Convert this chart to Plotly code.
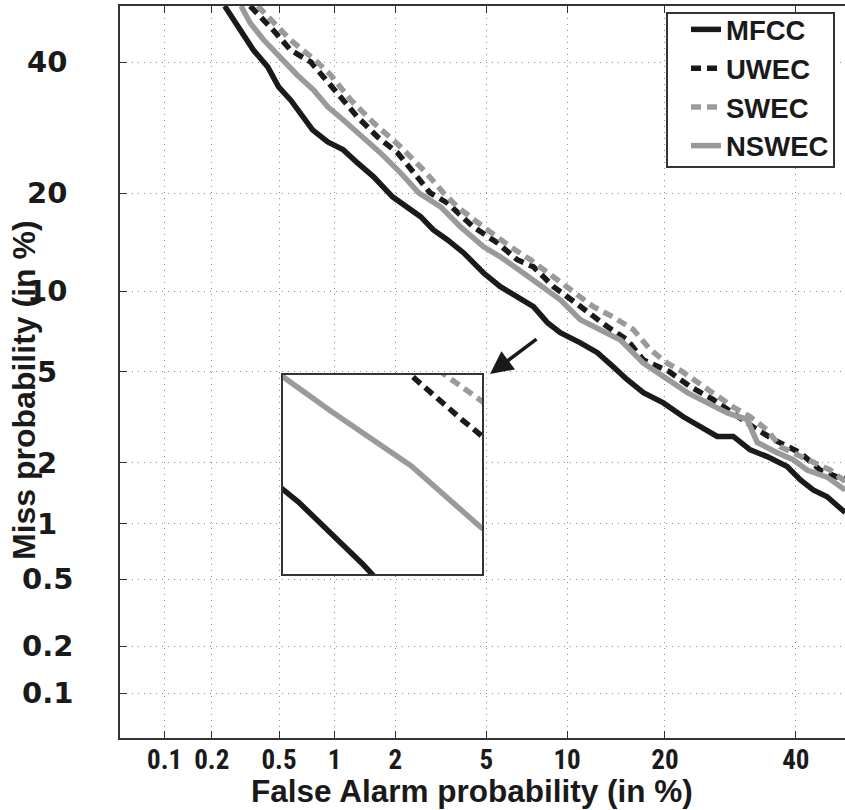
import plotly.graph_objects as go
from statistics import NormalDist

_nd = NormalDist()


def probit(pct):
    return _nd.inv_cdf(pct / 100.0)


# ---------------- data (percent) ----------------
x_ticks = [0.1, 0.2, 0.5, 1, 2, 5, 10, 20, 40]
x_tick_labels = ["0.1", "0.2", "0.5", "1", "2", "5", "10", "20", "40"]
y_ticks = [0.1, 0.2, 0.5, 1, 2, 5, 10, 20, 40]
y_tick_labels = ["0.1", "0.2", "0.5", "1", "2", "5", "10", "20", "40"]

mfcc_fa = [0.240, 0.301, 0.356, 0.431, 0.497, 0.580, 0.685, 0.765, 0.921, 1.11, 1.31, 1.575, 1.943, 2.27,
           2.62, 2.99, 3.44, 4.04, 4.88, 5.69, 6.61, 7.60, 8.54, 9.48, 11.09, 12.61, 14.15, 15.60, 17.40,
           19.80, 22.39, 24.73, 27.20, 29.64, 32.33, 35.12, 38.50, 40.75, 43.03, 45.51, 48.73]
mfcc_miss = [50, 45.70, 42.15, 39.21, 35.80, 33.65, 30.89, 28.88, 27.05, 25.89, 24.03, 22.13, 19.55, 18.32,
             17.18, 15.70, 14.67, 13.35, 11.50, 10.35, 9.54, 8.82, 7.73, 7.10, 6.50, 5.96, 5.24, 4.65, 4.11,
             3.72, 3.24, 2.92, 2.65, 2.65, 2.30, 2.14, 1.92, 1.66, 1.48, 1.37, 1.14]

uwec_fa = [0.341, 0.393, 0.463, 0.580, 0.748, 0.875, 1.068, 1.31, 1.646, 2.053, 2.486, 2.89, 3.44, 4.43,
           5.53, 6.61, 7.60, 8.97, 9.62, 11.09, 13.54, 15.60, 17.40, 20.55, 23.34, 26.62, 30.26, 32.82,
           36.13, 40.75, 44.27, 47.30, 48.73]
uwec_miss = [50, 48.03, 45.70, 42.15, 40.07, 37.49, 34.14, 30.89, 27.81, 25.45, 22.40, 20.05, 18.80, 16.03,
             14.36, 12.70, 12.05, 10.35, 9.86, 8.82, 7.48, 6.66, 5.58, 5.01, 4.35, 3.84, 3.24, 2.92,
             2.57, 2.23, 1.85, 1.71, 1.68]

swec_fa = [0.377, 0.490, 0.580, 0.81, 0.955, 1.21, 1.575, 2.12, 2.75, 3.31, 3.80, 5.06, 6.23, 7.41, 8.97,
           10.51, 12.24, 14.15, 16.26, 18.20, 20.30, 22.26, 26.62, 29.64, 32.33, 35.12, 37.31, 40.75,
           46.02, 48.73]
swec_miss = [50, 46.24, 43.92, 40.07, 37.82, 33.65, 29.96, 26.33, 22.81, 20.05, 18.32, 15.70, 13.95, 12.70,
             11.17, 9.86, 8.82, 8.10, 7.29, 6.12, 5.42, 5.01, 4.11, 3.57, 3.24, 2.83, 2.38, 2.14, 1.85, 1.63]

nswec_fa = [0.301, 0.341, 0.409, 0.531, 0.631, 0.774, 0.921, 1.11, 1.397, 1.70, 2.12, 2.57, 3.22, 3.92,
            4.88, 5.69, 6.97, 8.68, 9.48, 11.09, 13.54, 14.88, 17.40, 19.80, 22.94, 25.75, 28.72, 31.85,
            33.47, 36.80, 39.54, 41.97, 45.51, 48.73]
nswec_miss = [50, 46.96, 43.92, 40.07, 37.82, 35.29, 32.51, 30.42, 27.81, 25.45, 22.67, 20.05, 18.32, 16.03,
              13.95, 12.98, 11.50, 10.0, 9.33, 7.92, 7.10, 6.66, 5.42, 4.78, 4.11, 3.72, 3.37, 3.15,
              2.49, 2.23, 2.07, 1.85, 1.71, 1.48]

# axis limits (percent)
fa_range = [0.05, 48.7]
miss_range = [0.05, 50.0]
# zoomed inset limits (percent)
inset_fa_range = [0.557, 0.923]
inset_miss_range = [30.48, 39.53]

BLACK = "#1a1a1a"
GRAY = "#9a9a9a"
series = [
    ("MFCC", mfcc_fa, mfcc_miss, BLACK, "solid"),
    ("UWEC", uwec_fa, uwec_miss, BLACK, "10px,6px"),
    ("SWEC", swec_fa, swec_miss, GRAY, "10px,6px"),
    ("NSWEC", nswec_fa, nswec_miss, GRAY, "solid"),
]

fig = go.Figure()
# zoomed inset (x2/y2)
for name, fa, miss, col, dash in series:
    fig.add_trace(go.Scatter(
        x=[probit(v) for v in fa], y=[probit(v) for v in miss], mode="lines",
        line=dict(color=col, width=5.5, dash=dash), showlegend=False,
        xaxis="x2", yaxis="y2", hoverinfo="skip"))

# main DET curves
for name, fa, miss, col, dash in series:
    fig.add_trace(go.Scatter(
        x=[probit(v) for v in fa], y=[probit(v) for v in miss], mode="lines", name=name,
        line=dict(color=col, width=5.5, dash=dash)))

FONT = "Liberation Sans, Arial, sans-serif"
NARROW = "Liberation Sans Narrow, Arial Narrow, Roboto Condensed, Liberation Sans, sans-serif"
WIDE = "DejaVu Sans, Verdana, sans-serif"
AX = "#333333"
GRID = "#8a8a8a"

W, H = 845, 810
ml, mr, mt, mb = 120, 0, 6, 72
pw, ph = W - ml - mr, H - mt - mb


def px_to_paper_x(px):
    return (px - ml) / pw


def px_to_paper_y(py):
    return 1 - (py - mt) / ph


fig.update_layout(
    width=W, height=H,
    margin=dict(l=ml, r=mr, t=mt, b=mb),
    paper_bgcolor="white", plot_bgcolor="white",
    font=dict(family=FONT, color=BLACK),
    xaxis=dict(
        range=[probit(fa_range[0]), probit(fa_range[1])],
        tickmode="array", tickvals=[probit(v) for v in x_ticks], ticktext=x_tick_labels,
        ticks="inside", ticklen=7, tickwidth=1.2, tickcolor=AX,
        showline=True, linecolor=AX, linewidth=2, mirror="ticks",
        showgrid=True, gridcolor=GRID, gridwidth=1, griddash="1px,5px",
        zeroline=False,
        tickfont=dict(size=27, weight="bold", family=NARROW, color=BLACK),
        ticklabelstandoff=-3,
    ),
    yaxis=dict(
        range=[probit(miss_range[0]), probit(miss_range[1])],
        tickmode="array", tickvals=[probit(v) for v in y_ticks], ticktext=y_tick_labels,
        showticklabels=False,
        ticks="inside", ticklen=7, tickwidth=1.2, tickcolor=AX,
        showline=True, linecolor=AX, linewidth=2, mirror=False,
        showgrid=True, gridcolor=GRID, gridwidth=1, griddash="1px,5px",
        zeroline=False,
    ),
    xaxis2=dict(
        domain=[px_to_paper_x(283), px_to_paper_x(482)], anchor="y2",
        range=[probit(inset_fa_range[0]), probit(inset_fa_range[1])],
        showticklabels=False, ticks="", showgrid=False, zeroline=False,
        showline=True, mirror=True, linecolor=AX, linewidth=1.5,
    ),
    yaxis2=dict(
        domain=[px_to_paper_y(574), px_to_paper_y(375)], anchor="x2",
        range=[probit(inset_miss_range[0]), probit(inset_miss_range[1])],
        showticklabels=False, ticks="", showgrid=False, zeroline=False,
        showline=True, mirror=True, linecolor=AX, linewidth=1.5,
    ),
    legend=dict(
        x=px_to_paper_x(686), y=px_to_paper_y(5), xanchor="left", yanchor="top",
        bgcolor="rgba(0,0,0,0)", borderwidth=0,
        font=dict(size=27.5, weight="bold", family=FONT, color=BLACK),
        tracegroupgap=0,
    ),
    showlegend=True,
    shapes=[dict(
        type="rect", xref="paper", yref="paper",
        x0=px_to_paper_x(667), x1=px_to_paper_x(834), y0=px_to_paper_y(167), y1=px_to_paper_y(13),
        line=dict(color=AX, width=2), fillcolor="white", layer="above")],
)

annotations = []
for v, t in zip(y_ticks, y_tick_labels):
    annotations.append(dict(
        x=px_to_paper_x(47), xref="paper", y=probit(v), yref="y", text=t, showarrow=False,
        xanchor="center", yanchor="middle", font=dict(size=29, weight="bold", family=WIDE, color=BLACK)))
annotations.append(dict(
    x=px_to_paper_x(24), xref="paper", y=px_to_paper_y(390), yref="paper", yanchor="middle",
    xanchor="center", text="Miss probability (in %)", textangle=-90, showarrow=False,
    font=dict(size=32, weight="bold", family=FONT, color=BLACK)))
annotations.append(dict(
    x=px_to_paper_x(472), xref="paper", y=px_to_paper_y(791), yref="paper", yanchor="middle",
    xanchor="center", text="False Alarm probability (in %)", showarrow=False,
    font=dict(size=31.5, weight="bold", family=FONT, color=BLACK)))
annotations.append(dict(
    x=px_to_paper_x(490), y=px_to_paper_y(374), xref="paper", yref="paper",
    ax=48, ay=-36, text="", showarrow=True, arrowhead=2, arrowsize=1.3, arrowwidth=3.5,
    arrowcolor=BLACK))
fig.update_layout(annotations=annotations)

fig.write_html("out.html", config={"displayModeBar": False},
               post_script="document.body.style.margin='0px';")
